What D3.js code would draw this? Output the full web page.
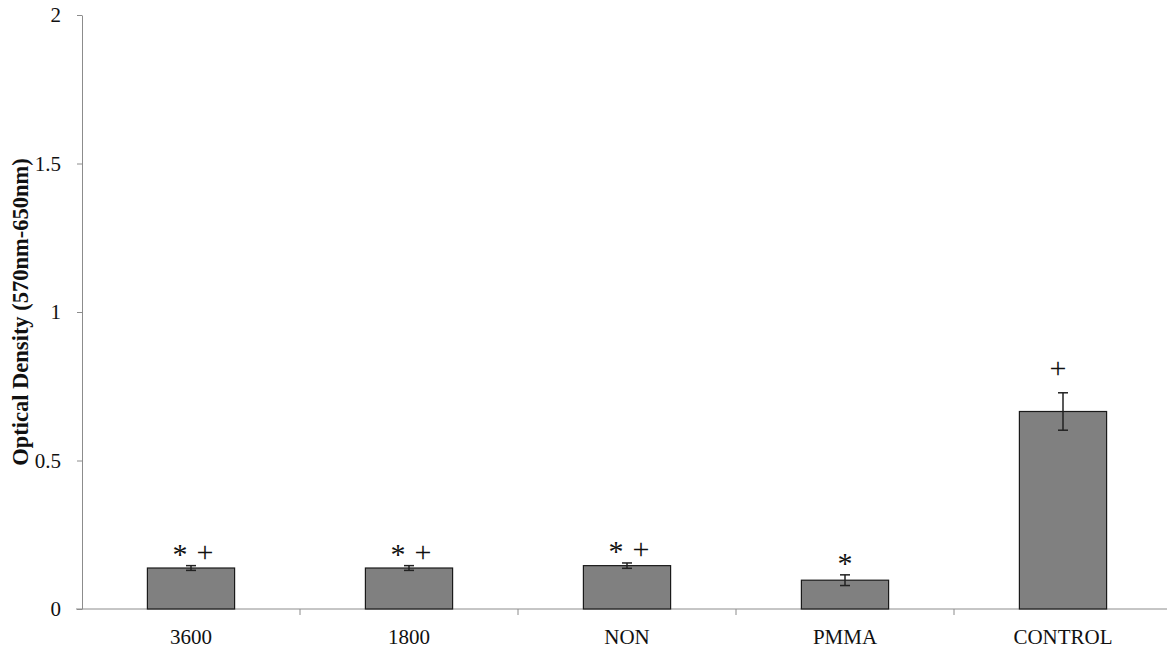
<!DOCTYPE html>
<html>
<head>
<meta charset="utf-8">
<script src="https://cdn.jsdelivr.net/npm/d3@7/dist/d3.min.js"></script>
<style>
  html, body { margin: 0; padding: 0; background: #fff; }
  svg { display: block; }
  text { font-family: "Liberation Serif", "Times New Roman", serif; }
</style>
</head>
<body>
<svg id="chart" width="1167" height="652"></svg>
<script>
// Optical density per sample group, with error bars and significance marks
const categories = ["3600", "1800", "NON", "PMMA", "CONTROL"];
const means = [0.138, 0.138, 0.146, 0.097, 0.665];
const errors = [0.008, 0.008, 0.009, 0.018, 0.063];
const marks = ["* +", "* +", "* +", "*", "+"];
const yTicks = [0, 0.5, 1, 1.5, 2];
const yTitle = "Optical Density (570nm-650nm)";

const svg = d3.select("#chart");
const plotLeft = 82, plotRight = 1172, plotTop = 15, plotBottom = 609;

const x = d3.scaleBand().domain(categories).range([plotLeft, plotRight]).paddingInner(0.6).paddingOuter(0.3);
const y = d3.scaleLinear().domain([0, 2]).range([plotBottom, plotTop]);

// y axis
const yAxis = svg.append("g").attr("transform", `translate(${plotLeft},0)`)
  .call(d3.axisLeft(y).tickValues(yTicks).tickFormat(d3.format("")).tickSize(5).tickSizeOuter(0));
yAxis.select(".domain").attr("stroke", "#8c8c8c");
yAxis.selectAll(".tick line").attr("stroke", "#8c8c8c");
yAxis.selectAll(".tick text").attr("font-size", 21).attr("fill", "#111")
  .attr("font-family", "Liberation Serif").attr("x", -21);

// x axis: ticks sit between categories
const xAxis = svg.append("g").attr("transform", `translate(0,${plotBottom})`);
xAxis.append("line").attr("x1", plotLeft - 6).attr("x2", plotRight).attr("y1", 0).attr("y2", 0)
  .attr("stroke", "#8c8c8c");
const step = x.step();
categories.slice(0, -1).forEach(c => {
  const bx = x(c) + x.bandwidth() / 2 + step / 2;
  xAxis.append("line").attr("x1", bx).attr("x2", bx).attr("y1", 0).attr("y2", 6).attr("stroke", "#8c8c8c");
});
xAxis.selectAll("text.cat").data(categories).join("text").attr("class", "cat")
  .attr("x", d => x(d) + x.bandwidth() / 2).attr("y", 35)
  .attr("text-anchor", "middle").attr("font-size", 21).attr("fill", "#111").text(d => d);

// bars
const data = categories.map((c, i) => ({ c, v: means[i], e: errors[i], m: marks[i] }));
svg.append("g").selectAll("rect").data(data).join("rect")
  .attr("x", d => x(d.c)).attr("width", x.bandwidth())
  .attr("y", d => y(d.v)).attr("height", d => y(0) - y(d.v))
  .attr("fill", "#808080").attr("stroke", "#1a1a1a").attr("stroke-width", 1.2);

// error bars
const eg = svg.append("g").attr("stroke", "#222").attr("stroke-width", 1.5);
data.forEach(d => {
  const cx = x(d.c) + x.bandwidth() / 2;
  eg.append("line").attr("x1", cx).attr("x2", cx).attr("y1", y(d.v + d.e)).attr("y2", y(d.v - d.e));
  eg.append("line").attr("x1", cx - 5).attr("x2", cx + 5).attr("y1", y(d.v + d.e)).attr("y2", y(d.v + d.e));
  eg.append("line").attr("x1", cx - 5).attr("x2", cx + 5).attr("y1", y(d.v - d.e)).attr("y2", y(d.v - d.e));
});

// significance marks above each bar
const mg = svg.append("g").attr("fill", "#111").attr("font-family", "Liberation Serif");
data.forEach(d => {
  const cx = x(d.c) + x.bandwidth() / 2;
  const errTop = y(d.v + d.e);
  const hasStar = d.m.includes("*"), hasPlus = d.m.includes("+");
  if (hasStar && hasPlus) {
    mg.append("text").attr("x", cx - 11).attr("y", errTop - 2).attr("text-anchor", "middle")
      .attr("font-size", 30).text("*");
    mg.append("text").attr("x", cx + 14).attr("y", errTop - 4).attr("text-anchor", "middle")
      .attr("font-size", 30).text("+");
  } else if (hasStar) {
    mg.append("text").attr("x", cx).attr("y", errTop - 2).attr("text-anchor", "middle")
      .attr("font-size", 30).text("*");
  } else {
    mg.append("text").attr("x", cx - 5).attr("y", errTop - 15).attr("text-anchor", "middle")
      .attr("font-size", 30).text("+");
  }
});

// y axis title
svg.append("text").attr("transform", `translate(28,${(plotTop + plotBottom) / 2}) rotate(-90)`)
  .attr("text-anchor", "middle").attr("font-size", 22.5).attr("font-weight", "bold")
  .attr("fill", "#111").text(yTitle);
</script>
</body>
</html>
